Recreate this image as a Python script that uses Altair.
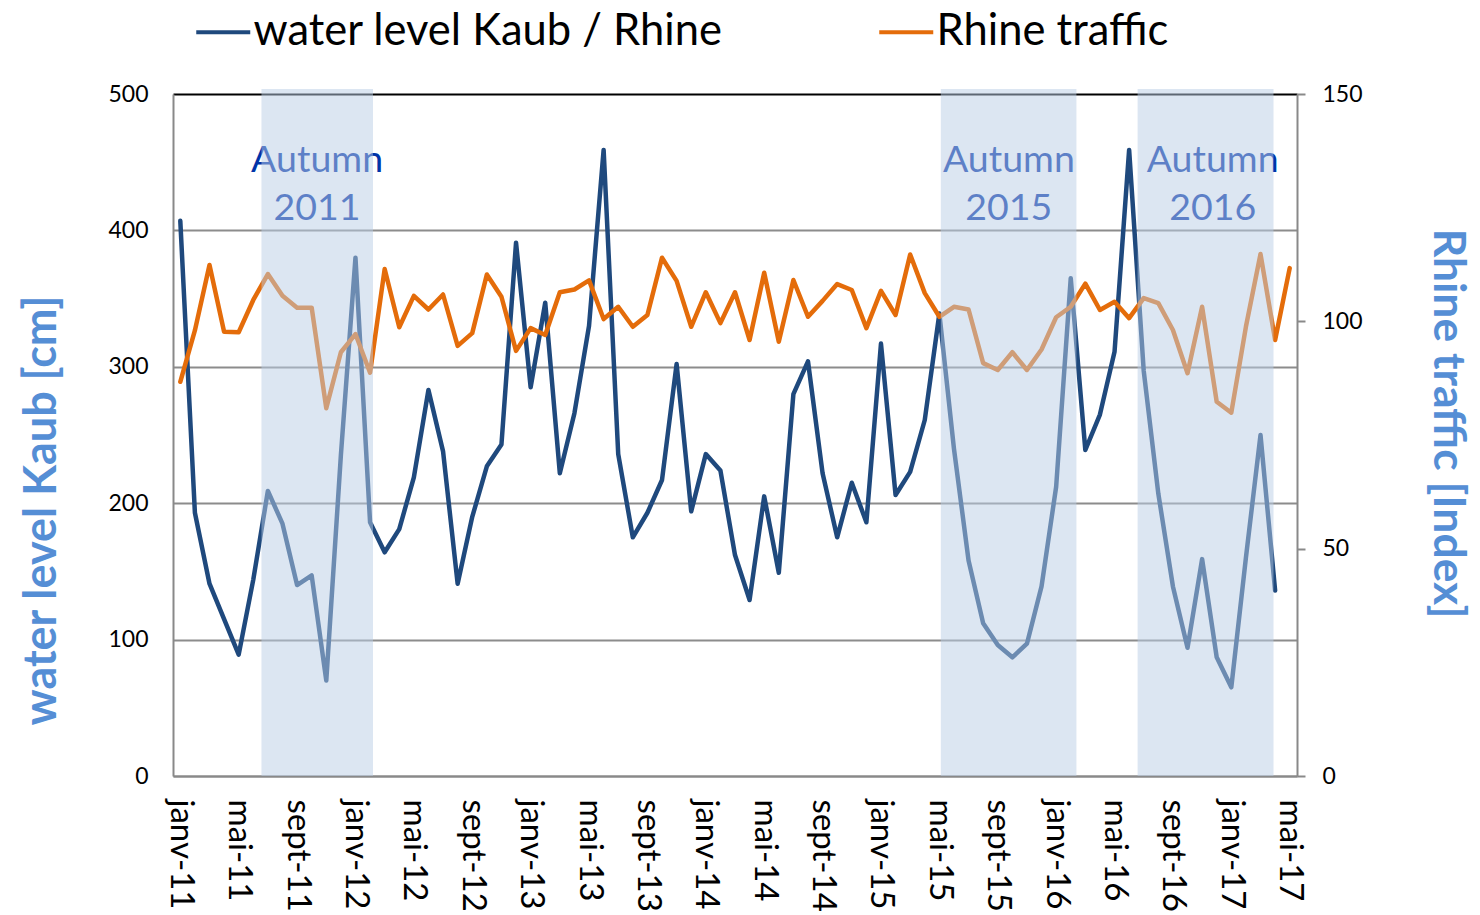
import altair as alt
import pandas as pd

# ---------------- data ----------------
MONTHS_FR = ["janv", "févr", "mars", "avr", "mai", "juin",
             "juil", "août", "sept", "oct", "nov", "déc"]

# month labels, Jan 2011 .. May 2017 (77 months)
month_labels = [f"{MONTHS_FR[i % 12]}-{11 + i // 12}" for i in range(77)]

x_tick_labels = ["janv-11", "mai-11", "sept-11", "janv-12", "mai-12", "sept-12",
                 "janv-13", "mai-13", "sept-13", "janv-14", "mai-14", "sept-14",
                 "janv-15", "mai-15", "sept-15", "janv-16", "mai-16", "sept-16",
                 "janv-17", "mai-17"]

# water level at Kaub [cm], Jan 2011 .. Apr 2017
water_level = [407, 193, 141, 115, 89, 144, 209, 185, 140, 147,
               70, 235, 380, 186, 164, 181, 219, 283, 238, 141,
               190, 227, 243, 391, 285, 347, 222, 266, 330, 459,
               236, 175, 193, 217, 302, 194, 236, 224, 162, 129,
               205, 149, 280, 304, 222, 175, 215, 186, 317, 206,
               223, 261, 339, 240, 158, 112, 96, 87, 97, 139,
               212, 365, 239, 265, 311, 459, 297, 207, 139, 94,
               159, 87, 65, 160, 250, 136]

# Rhine traffic [index], Jan 2011 .. May 2017
rhine_traffic = [86.7, 98.0, 112.4, 97.7, 97.6, 104.7, 110.4, 105.6, 103.0, 103.0,
                 80.9, 93.2, 97.2, 88.7, 111.5, 98.7, 105.6, 102.6, 105.9, 94.6,
                 97.4, 110.3, 105.4, 93.5, 98.5, 97.0, 106.4, 107.0, 109.0, 100.5,
                 103.2, 98.8, 101.4, 114.0, 108.9, 98.8, 106.4, 99.6, 106.4, 95.9,
                 110.7, 95.5, 109.1, 101.0, 104.5, 108.2, 106.9, 98.5, 106.7, 101.4,
                 114.7, 106.2, 101.0, 103.2, 102.6, 90.8, 89.3, 93.2, 89.3, 93.8,
                 100.9, 103.2, 108.3, 102.5, 104.3, 100.7, 105.1, 104.0, 98.1, 88.6,
                 103.2, 82.3, 79.9, 98.8, 114.8, 95.9, 111.7]

series_names = ["water level Kaub / Rhine", "Rhine traffic"]
series_colors = ["#1F497D", "#E46C0A"]

# autumn periods (month index, fractional) and their labels
autumn_start = [5.56, 52.1, 65.58]
autumn_end = [13.2, 61.39, 74.89]
autumn_label_x = [9.37, 56.76, 70.72]
autumn_text = ["Autumn\n2011", "Autumn\n2015", "Autumn\n2016"]
autumn_label_y = [443, 443, 443]   # cm units (left axis)
shade_bottom = [0, 0, 0]
shade_top = [503.7, 503.7, 503.7]

# ---------------- tables ----------------
water_df = pd.DataFrame({"idx": list(range(len(water_level))),
                         "month": month_labels[:len(water_level)],
                         "value": water_level,
                         "series": series_names[0]})
traffic_df = pd.DataFrame({"idx": list(range(len(rhine_traffic))),
                           "month": month_labels[:len(rhine_traffic)],
                           "value": rhine_traffic,
                           "series": series_names[1]})
shade_df = pd.DataFrame({"idx": autumn_start, "end": autumn_end,
                         "bottom": shade_bottom, "top": shade_top})
label_df = pd.DataFrame({"idx": autumn_label_x, "ly": autumn_label_y,
                         "text": autumn_text})

FONT = "Lato"
AXIS_GRAY = "#898989"
TITLE_BLUE = "#558ED5"

label_expr = "[" + ",".join("'" + s + "'" for s in x_tick_labels) + "][round(datum.value / 4)]"
x_scale = alt.Scale(domain=[-0.5, 76.5], nice=False, zero=False)
x_axis = alt.Axis(values=list(range(0, 77, 4)), labelExpr=label_expr,
                  labelAngle=90, labelAlign="left", labelBaseline="middle",
                  labelFontSize=33, labelPadding=23, labelColor="#000000",
                  labelFont=FONT, ticks=False, grid=False, labelFlush=False,
                  domainColor=AXIS_GRAY, domainWidth=2, title=None,
                  labelOverlap=False)


def x_enc():
    return alt.X("idx:Q", scale=x_scale, axis=x_axis)


color_enc = alt.Color("series:N",
                      scale=alt.Scale(domain=series_names, range=series_colors),
                      legend=alt.Legend(orient="none", legendX=15, legendY=-84,
                                        direction="horizontal",
                                        symbolType="M-1,0H3",
                                        symbolSize=729, symbolStrokeWidth=4,
                                        labelFontSize=43.5, labelFont=FONT,
                                        labelColor="#000000", labelLimit=2000,
                                        labelOffset=22, columnPadding=148,
                                        title=None))

LINE_W = 4.5

water_line = alt.Chart(water_df).mark_line(
    strokeWidth=LINE_W, strokeJoin="round", strokeCap="round"
).encode(
    x=x_enc(),
    y=alt.Y("value:Q", scale=alt.Scale(domain=[0, 500], nice=False),
            axis=alt.Axis(values=[0, 100, 200, 300, 400, 500], grid=True,
                          gridColor={"condition": {"test": "datum.value === 500",
                                                   "value": "#000000"},
                                     "value": "#8C8C8C"},
                          gridWidth=2, ticks=False, domainColor=AXIS_GRAY,
                          domainWidth=2, labelFontSize=23, labelPadding=25,
                          labelColor="#000000", labelFont=FONT,
                          title="water level Kaub [cm]", titleFont=FONT,
                          titleFontSize=45, titleFontWeight="bold",
                          titleColor=TITLE_BLUE, titleAngle=270,
                          titleX=-132, titleY=416, titleAlign="center",
                          titleBaseline="middle")),
    color=color_enc,
    tooltip=["month:N", "value:Q"],
)

traffic_line = alt.Chart(traffic_df).mark_line(
    strokeWidth=LINE_W, strokeJoin="round", strokeCap="round"
).encode(
    x=x_enc(),
    y=alt.Y("value:Q", scale=alt.Scale(domain=[0, 150], nice=False),
            axis=alt.Axis(orient="right", values=[0, 50, 100, 150], grid=False,
                          ticks=True, tickSize=8, tickColor=AXIS_GRAY, tickWidth=2,
                          domainColor=AXIS_GRAY, domainWidth=2, labelFontSize=23,
                          labelPadding=17, labelColor="#000000", labelFont=FONT,
                          title="Rhine traffic [Index]", titleFont=FONT,
                          titleFontSize=44.5, titleFontWeight="bold",
                          titleColor=TITLE_BLUE, titleAngle=90,
                          titleX=149, titleY=329, titleAlign="center",
                          titleBaseline="middle")),
    color=color_enc,
    tooltip=["month:N", "value:Q"],
)

labels = alt.Chart(label_df).mark_text(
    lineBreak="\n", fontSize=37.5, font=FONT, color="#0033A8",
    align="center", baseline="alphabetic", lineHeight=48
).encode(
    x=x_enc(),
    y=alt.Y("ly:Q", scale=alt.Scale(domain=[0, 500], nice=False), axis=None),
    text="text:N",
)

shades = alt.Chart(shade_df).mark_rect(color="#B9CDE5", opacity=0.5).encode(
    x=x_enc(),
    x2="end:Q",
    y=alt.Y("bottom:Q", scale=alt.Scale(domain=[0, 500], nice=False), axis=None),
    y2="top:Q",
)

chart = alt.layer(water_line, traffic_line, labels, shades).resolve_scale(
    y="independent"
).properties(
    width=1124, height=682,
    autosize=alt.AutoSizeParams(type="none"),
    padding={"left": 165, "top": 86, "right": 175, "bottom": 140},
).configure(font=FONT).configure_view(stroke="transparent")

chart.save("out.html", embed_options={"renderer": "svg", "actions": False})
